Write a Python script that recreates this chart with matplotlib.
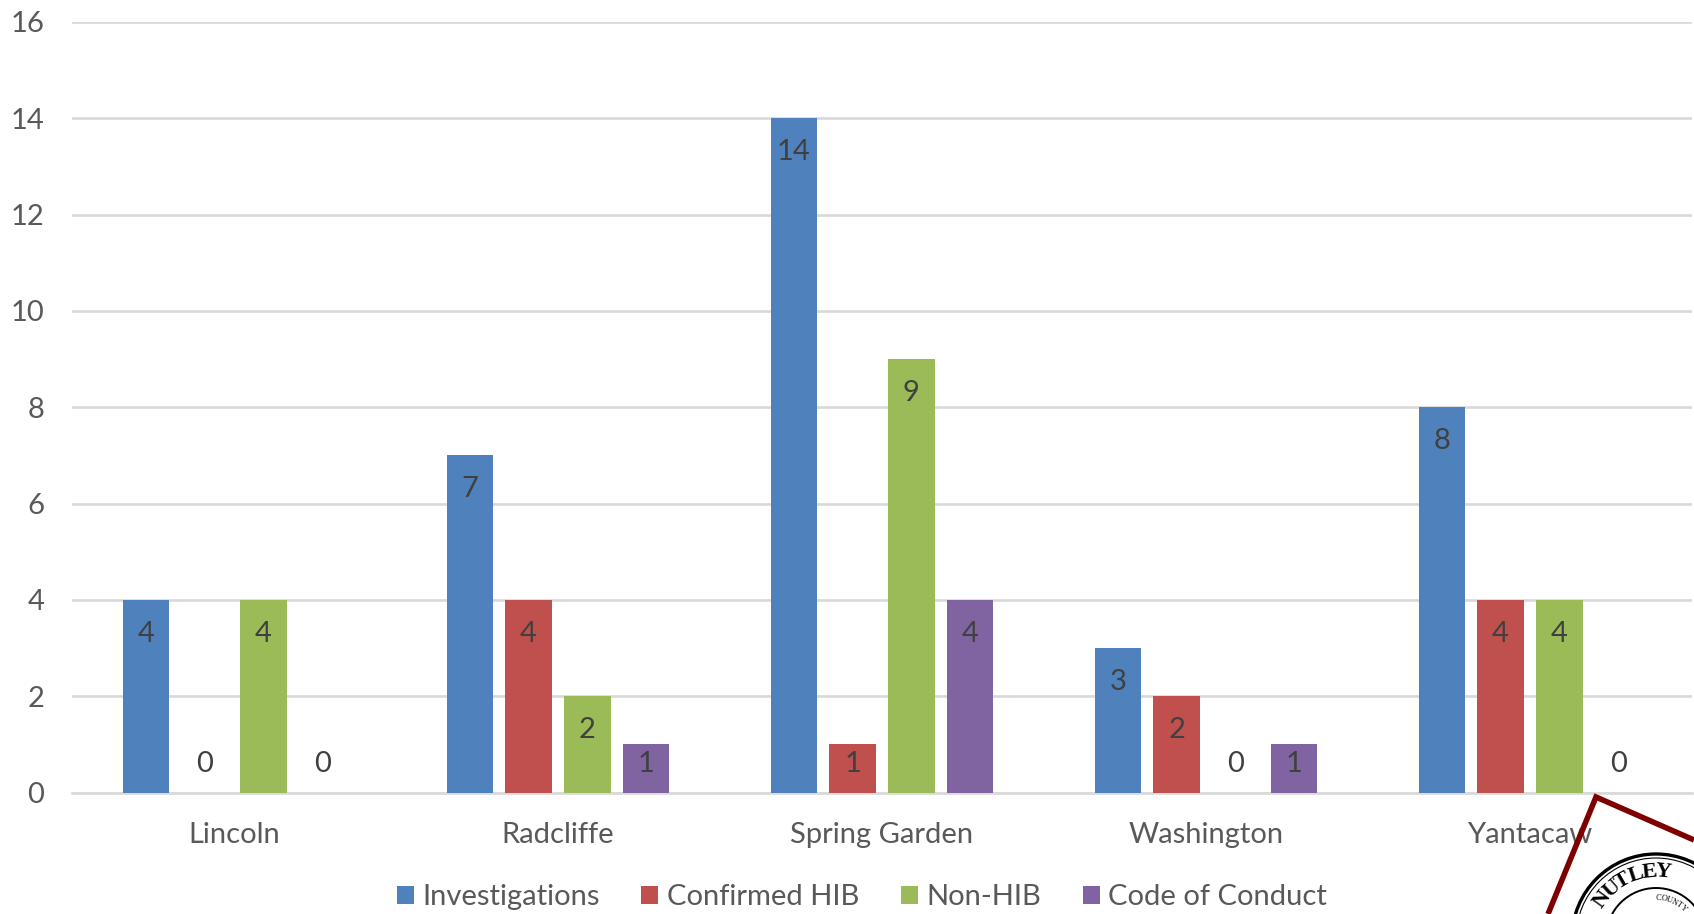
import numpy as np
import matplotlib.pyplot as plt
from matplotlib.patches import Circle, Polygon

schools = ["Lincoln", "Radcliffe", "Spring Garden", "Washington", "Yantacaw"]
investigations = [4, 7, 14, 3, 8]
confirmed_hib = [0, 4, 1, 2, 4]
non_hib = [4, 2, 9, 0, 4]
code_of_conduct = [0, 1, 4, 1, 0]

series_names = ["Investigations", "Confirmed HIB", "Non-HIB", "Code of Conduct"]
series_colors = ["#4F81BD", "#C0504D", "#9BBB59", "#8064A2"]

plt.rcParams['font.family'] = ['Lato', 'DejaVu Sans']

W, H = 1694, 914
fig = plt.figure(figsize=(W / 100, H / 100), dpi=100)
ax = fig.add_axes([72 / W, 1 - 792.5 / H, (1692 - 72) / W, (792.5 - 22) / H])

# same proportions as an Office chart: gap 219%, overlap -27%
bar_w = 1 / 7
pitch = bar_w * 1.27
x = np.arange(len(schools))
all_series = [investigations, confirmed_hib, non_hib, code_of_conduct]

for i, values in enumerate(all_series):
    pos = x + (i - 1.5) * pitch
    ax.bar(pos, values, bar_w, color=series_colors[i], label=series_names[i], zorder=3)
    for p, v in zip(pos, values):
        # inside end, but small bars push the label up to the zero label height
        ax.text(p, max(v - 0.70, 0.60), str(v), ha="center", va="center",
                fontsize=21, color="#404040", zorder=4)

ax.set_xlim(-0.5, 4.5)
ax.set_ylim(0, 16)
ax.set_yticks(range(0, 17, 2))
ax.set_xticks(x)
ax.set_xticklabels(schools)
ax.tick_params(axis="y", length=0, pad=20, labelsize=21, labelcolor="#595959")
ax.tick_params(axis="x", length=0, pad=21.5, labelsize=21, labelcolor="#595959")
ax.grid(axis="y", color="#D9D9D9", linewidth=1.9, zorder=1)
ax.set_axisbelow(True)
for s in ["top", "right", "left"]:
    ax.spines[s].set_visible(False)
ax.spines["bottom"].set_color("#D9D9D9")
ax.spines["bottom"].set_linewidth(1.9)

fig.legend(loc="center", bbox_to_anchor=(862 / W, 1 - 897 / H), ncol=4, frameon=False,
           fontsize=21, labelcolor="#595959", handlelength=0.58, handleheight=0.58,
           handletextpad=0.3, columnspacing=1.42, borderpad=0)

# seal in the bottom right corner, drawn in pixel coordinates
seal = fig.add_axes([0, 0, 1, 1], facecolor="none")
seal.set_xlim(0, W)
seal.set_ylim(H, 0)
seal.axis("off")
seal.add_patch(Polygon([(1548, 914), (1596, 797), (1694, 840)], closed=False, fill=False,
                       edgecolor="#7F0000", linewidth=4, joinstyle="miter"))
cx, cy = 1656, 938
seal.add_patch(Circle((cx, cy), 84, fill=False, edgecolor="black", linewidth=2.4))
seal.add_patch(Circle((cx, cy), 80, fill=False, edgecolor="black", linewidth=0.8))
seal.add_patch(Circle((cx, cy), 50, fill=False, edgecolor="black", linewidth=1.4))
for letter, ang in zip("NUTLEY", [-54, -42, -30, -18, -6, 6]):
    a = np.radians(ang)
    seal.text(cx + 66 * np.sin(a), cy - 66 * np.cos(a), letter, rotation=-ang, ha="center", va="center",
              fontsize=16, fontweight="bold", family="Liberation Serif", color="black")
for letter, ang in zip("COUNTY", [3, 11, 19, 27, 35, 43]):
    a = np.radians(ang)
    seal.text(cx + 40 * np.sin(a), cy - 40 * np.cos(a), letter, rotation=-ang, ha="center", va="center",
              fontsize=6, family="Liberation Serif", color="black")

fig.savefig("out.png", dpi=100)
